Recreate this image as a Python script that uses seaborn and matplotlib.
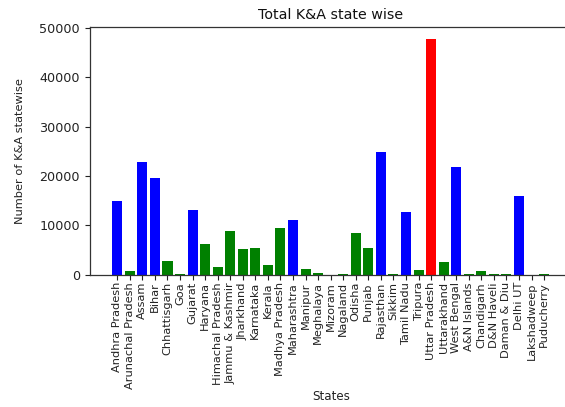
import matplotlib
matplotlib.use("Agg")
import matplotlib.pyplot as plt
import seaborn as sns
import pandas as pd

states = [
    "Andhra Pradesh", "Arunachal Pradesh", "Assam", "Bihar", "Chhattisgarh",
    "Goa", "Gujarat", "Haryana", "Himachal Pradesh", "Jammu & Kashmir",
    "Jharkhand", "Karnataka", "Kerala", "Madhya Pradesh", "Maharashtra",
    "Manipur", "Meghalaya", "Mizoram", "Nagaland", "Odisha", "Punjab",
    "Rajasthan", "Sikkim", "Tamil Nadu", "Tripura", "Uttar Pradesh",
    "Uttarakhand", "West Bengal", "A&N Islands", "Chandigarh", "D&N Haveli",
    "Daman & Diu", "Delhi UT", "Lakshadweep", "Puducherry",
]
totals = [
    14900, 730, 22900, 19500, 2760,
    200, 13100, 6200, 1540, 8900,
    5260, 5470, 2020, 9370, 11000,
    1130, 400, 40, 150, 8500, 5470,
    24750, 150, 12600, 870, 47770,
    2490, 21800, 200, 670, 200,
    200, 15850, 20, 200,
]

# colour rule: red for the top state, blue above 10000, green otherwise
top = max(totals)
colors = ["red" if v == top else ("blue" if v > 10000 else "green") for v in totals]

df = pd.DataFrame({"States": states, "Total": totals})

fig = plt.figure(figsize=(5.65, 4.07), dpi=100)
ax = fig.add_axes([0.16, 0.325, 0.8506, 0.6087])

sns.barplot(data=df, x="States", y="Total", hue="States", palette=colors,
            saturation=1, width=0.8, linewidth=0, legend=False, ax=ax)

n = len(states)
ax.set_xlim(-0.4 - 0.05 * (n - 0.2), (n - 1) + 0.4 + 0.05 * (n - 0.2))
ax.set_ylim(0, top * 1.05)
ax.set_yticks([0, 10000, 20000, 30000, 40000, 50000])

for side in ["left", "top", "bottom"]:
    ax.spines[side].set_visible(True)
    ax.spines[side].set_color("#333333")
    ax.spines[side].set_linewidth(0.9)
ax.spines["right"].set_visible(False)

ax.tick_params(axis="x", labelrotation=90, labelsize=8.2, colors="#222222",
               length=3.5, pad=1.8)
ax.tick_params(axis="y", labelsize=9.2, colors="#222222", length=3.5, pad=4)

ax.set_title("Total K&A state wise", fontsize=10.3, color="#111111", pad=6)
ax.set_xlabel("States", fontsize=8.6, color="#222222", labelpad=1)
ax.set_ylabel("Number of K&A statewise", fontsize=8.2, color="#222222", labelpad=10)

fig.savefig("out.png", dpi=100)
